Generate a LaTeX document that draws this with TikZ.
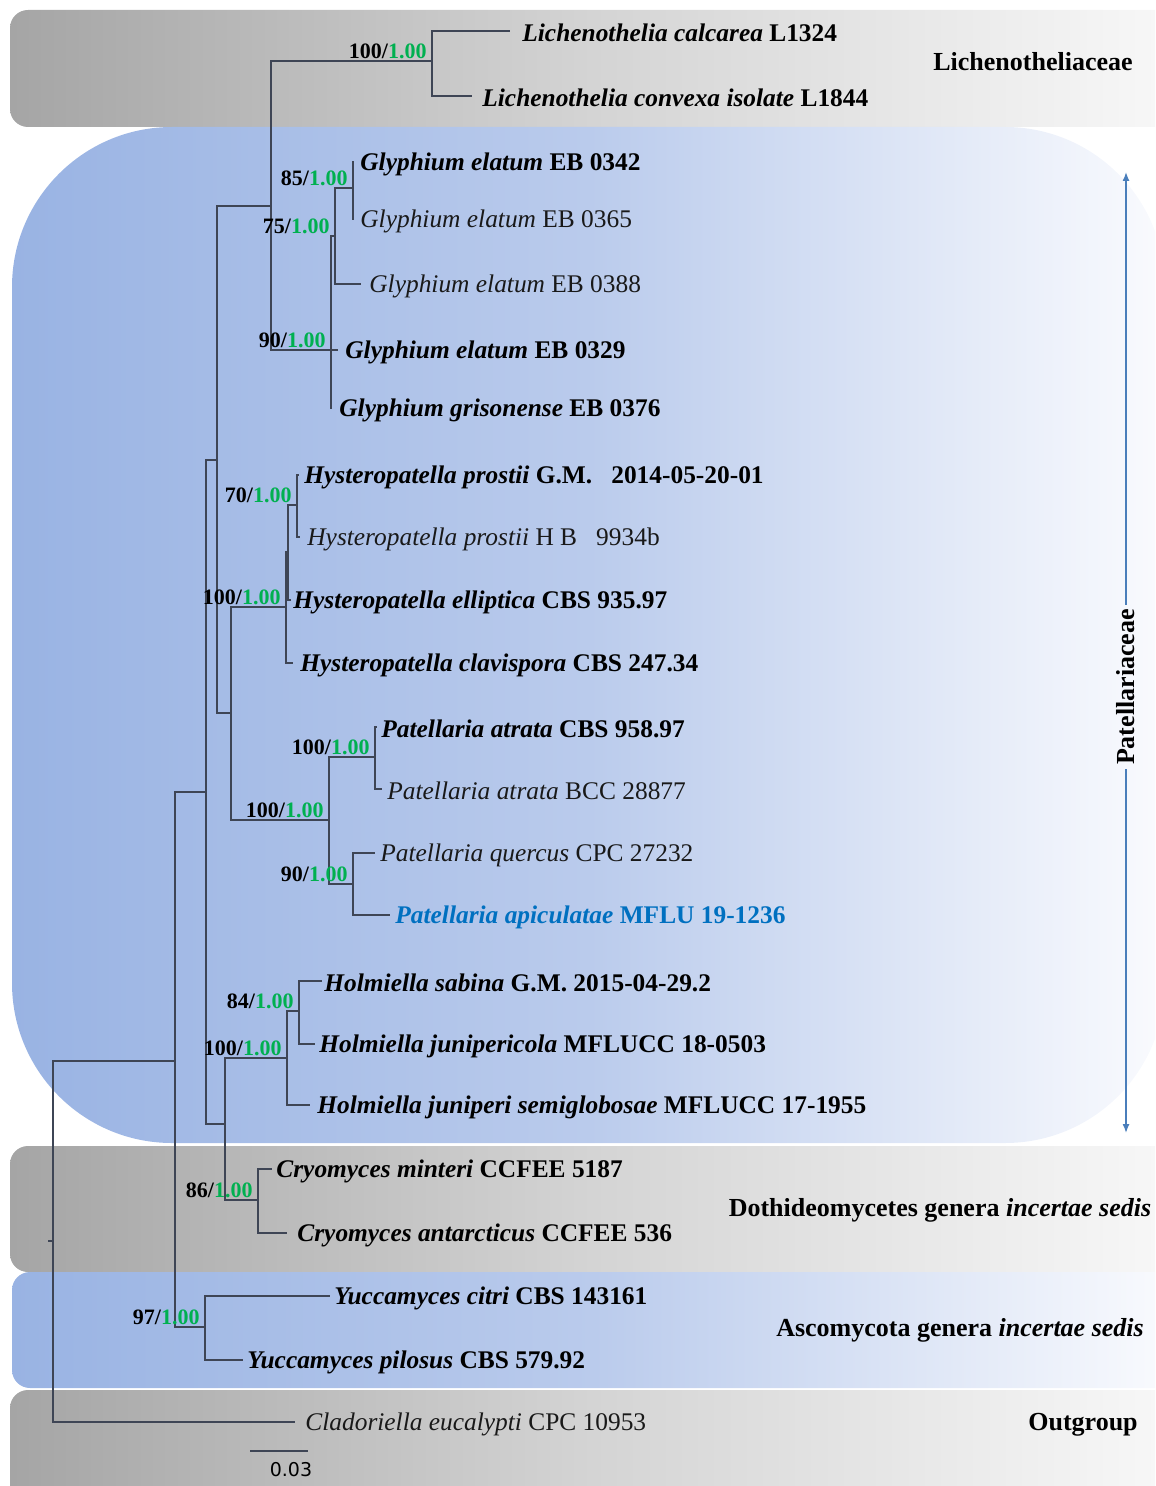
\documentclass[tikz,border=0pt]{standalone}
\usepackage{fontspec}
\setmainfont{Liberation Serif}
\newfontfamily\sbfont{DejaVu Sans}
\usetikzlibrary{arrows.meta}
\definecolor{ppgreen}{HTML}{00B050}
\definecolor{newblue}{HTML}{0070C0}
\definecolor{brline}{HTML}{3E4555}
\definecolor{arrblue}{HTML}{4A7EBB}
\definecolor{greyL}{HTML}{A5A5A5}
\definecolor{greyM}{HTML}{D4D4D4}
\definecolor{greyR}{HTML}{F8F8F8}
\definecolor{blueL}{HTML}{99B3E3}
\definecolor{blueM}{HTML}{BACBEC}
\definecolor{blueR}{HTML}{FAFBFE}
\tikzset{
  branch/.style={draw=brline,line width=0.55pt},
  tiplab/.style={anchor=west,inner xsep=0pt,inner ysep=1pt,yshift=-1pt,
    font=\fontsize{12.7}{15}\selectfont},
  supp/.style={anchor=south east,inner sep=1pt,xshift=-1.5pt,
    font=\bfseries\fontsize{11}{13}\selectfont},
  grplab/.style={inner sep=0pt,font=\bfseries\fontsize{13}{16}\selectfont},
  greyband/.style={left color=greyL,right color=greyR,middle color=greyM,
    rounded corners=9pt},
  blueband/.style={left color=blueL,right color=blueR,middle color=blueM,
    rounded corners=9pt}}
% tip: name, branch end x, text x, y, label
\newcommand{\tipb}[5]{%
  \coordinate (#1) at (#2,#4);
  \node[tiplab] (#1-t) at (#3,#4) {\bfseries #5};}
\newcommand{\tipn}[5]{%
  \coordinate (#1) at (#2,#4);
  \node[tiplab,text=black!90] (#1-t) at (#3,#4) {#5};}
% support values: node, bootstrap (PP is always 1.00)
\newcommand{\bsv}[2]{%
  \node[supp] (#1-s) at (#1) {#2/\textcolor{ppgreen}{1.00}};}

\begin{document}
\begin{tikzpicture}[x=0.5pt,y=-0.5pt,
    patarr/.style={draw=arrblue,line width=0.7pt,-{Latex[length=4.5pt,width=3.5pt]}}]
  \useasboundingbox (0,0) rectangle (1155,1486);

  % family bands
  \begin{scope}
    \clip (0,0) rectangle (1155,1486);
    \shade[greyband] (10,10) rectangle (1175,127);
    \shade[blueband,rounded corners=80pt] (12,127) rectangle (1165,1143);
    \shade[greyband] (10,1146) rectangle (1175,1272);
    \shade[blueband] (12,1272) rectangle (1175,1388);
    \shade[greyband] (10,1390) rectangle (1175,1510);
  \end{scope}

  % tips
  \tipb{lcal}{510}{522}{31}{\textit{Lichenothelia calcarea} L1324}
  \tipb{lcon}{472}{482}{96}{\textit{Lichenothelia convexa isolate} L1844}
  \tipb{g0342}{354}{360}{162}{\textit{Glyphium elatum} EB 0342}
  \tipn{g0365}{354}{360}{219}{\textit{Glyphium elatum} EB 0365}
  \tipn{g0388}{361}{369}{284}{\textit{Glyphium elatum} EB 0388}
  \tipb{g0329}{338}{345}{350}{\textit{Glyphium elatum} EB 0329}
  \tipb{ggri}{332}{339}{408}{\textit{Glyphium grisonense} EB 0376}
  \tipb{hpGM}{299}{304}{475}{\textit{Hysteropatella prostii} G.M.~~~2014-05-20-01}
  \tipn{hpHB}{300}{307}{537}{\textit{Hysteropatella prostii} H B~~~9934b}
  \tipb{hell}{291}{293}{600}{\textit{Hysteropatella elliptica} CBS 935.97}
  \tipb{hcla}{293}{300}{663}{\textit{Hysteropatella clavispora} CBS 247.34}
  \tipb{paCBS}{377}{381}{727}{\textit{Patellaria atrata} CBS 958.97}
  \tipn{paBCC}{382}{387}{789}{\textit{Patellaria atrata} BCC 28877}
  \tipn{pque}{375}{380}{853}{\textit{Patellaria quercus} CPC 27232}
  \tipb{papi}{390}{395}{915}{\color{newblue}\textit{Patellaria apiculatae} MFLU 19-1236}
  \tipb{hsab}{322}{324}{981}{\textit{Holmiella sabina} G.M. 2015-04-29.2}
  \tipb{hjun}{315}{319}{1044}{\textit{Holmiella junipericola} MFLUCC 18-0503}
  \tipb{hjsemi}{310}{317}{1105}{\textit{Holmiella juniperi semiglobosae} MFLUCC 17-1955}
  \tipb{cmin}{272}{276}{1169}{\textit{Cryomyces minteri} CCFEE 5187}
  \tipb{cant}{287}{297}{1233}{\textit{Cryomyces antarcticus} CCFEE 536}
  \tipb{ycit}{330}{334}{1296}{\textit{Yuccamyces citri} CBS 143161}
  \tipb{ypil}{243}{247}{1360}{\textit{Yuccamyces pilosus} CBS 579.92}
  \tipn{clad}{295}{305}{1422}{\textit{Cladoriella eucalypti} CPC 10953}

  % internal nodes
  \coordinate (nLic) at (432,61);
  \coordinate (nG85) at (353,188);
  \coordinate (nG75) at (335,236);
  \coordinate (nG90) at (331,350);
  \coordinate (nLG) at (271,206);
  \coordinate (nHP70) at (297,505);
  \coordinate (nHE) at (288,552);
  \coordinate (nH100) at (286,607);
  \coordinate (nPA100) at (375,757);
  \coordinate (nPQ90) at (353,884);
  \coordinate (nP100) at (329,820);
  \coordinate (nHP) at (231,713);
  \coordinate (nLGHP) at (217,460);
  \coordinate (nHo84) at (299,1011);
  \coordinate (nHo100) at (287,1058);
  \coordinate (nCr86) at (258,1200);
  \coordinate (nHC) at (225,1124);
  \coordinate (nPat) at (206,792);
  \coordinate (nY97) at (205,1327);
  \coordinate (nIn) at (175,1061);
  \coordinate (nRoot) at (53,1241);
  \coordinate (rootstub) at (48,1241);

  % branches
  \foreach \p/\c in {nLic/lcal,nLic/lcon,nG85/g0342,nG85/g0365,nG75/nG85,
      nG75/g0388,nG90/nG75,nG90/g0329,nG90/ggri,nLG/nLic,nLG/nG90,
      nHP70/hpGM,nHP70/hpHB,nHE/nHP70,nHE/hell,nH100/nHE,nH100/hcla,
      nPA100/paCBS,nPA100/paBCC,nPQ90/pque,nPQ90/papi,nP100/nPA100,
      nP100/nPQ90,nHP/nH100,nHP/nP100,nLGHP/nLG,nLGHP/nHP,nHo84/hsab,
      nHo84/hjun,nHo100/nHo84,nHo100/hjsemi,nCr86/cmin,nCr86/cant,
      nHC/nHo100,nHC/nCr86,nPat/nLGHP,nPat/nHC,nY97/ycit,nY97/ypil,
      nIn/nPat,nIn/nY97,nRoot/nIn,nRoot/clad}
    \draw[branch] (\p) |- (\c);
  \draw[branch] (rootstub) -- (nRoot);

  % ML bootstrap / Bayesian PP
  \bsv{nLic}{100}
  \bsv{nG85}{85}
  \bsv{nG75}{75}
  \bsv{nG90}{90}
  \bsv{nHP70}{70}
  \bsv{nH100}{100}
  \bsv{nPA100}{100}
  \bsv{nP100}{100}
  \bsv{nPQ90}{90}
  \bsv{nHo84}{84}
  \bsv{nHo100}{100}
  \bsv{nCr86}{86}
  \bsv{nY97}{97}

  % scale bar
  \coordinate (sbL) at (250,1451);
  \coordinate (sbR) at (308,1451);
  \draw[branch] (sbL) -- (sbR);
  \node[font=\sbfont\fontsize{9.5}{11}\selectfont] (sblab) at (291,1470) {0.03};

  % group names
  \node[grplab] (gLic) at (1033,62) {Lichenotheliaceae};
  \node[grplab] (gDot) at (940,1210) {Dothideomycetes genera \textit{incertae sedis}};
  \node[grplab] (gAsc) at (960,1330) {Ascomycota genera \textit{incertae sedis}};
  \node[grplab] (gOut) at (1083,1425) {Outgroup};
  \node[grplab,rotate=90,inner sep=2pt] (gPat) at (1126,687) {Patellariaceae};
  \coordinate (patTop) at (1126,172);
  \coordinate (patBot) at (1126,1133);
  \draw[patarr] (gPat.east) -- (patTop);
  \draw[patarr] (gPat.west) -- (patBot);
\end{tikzpicture}
\end{document}
